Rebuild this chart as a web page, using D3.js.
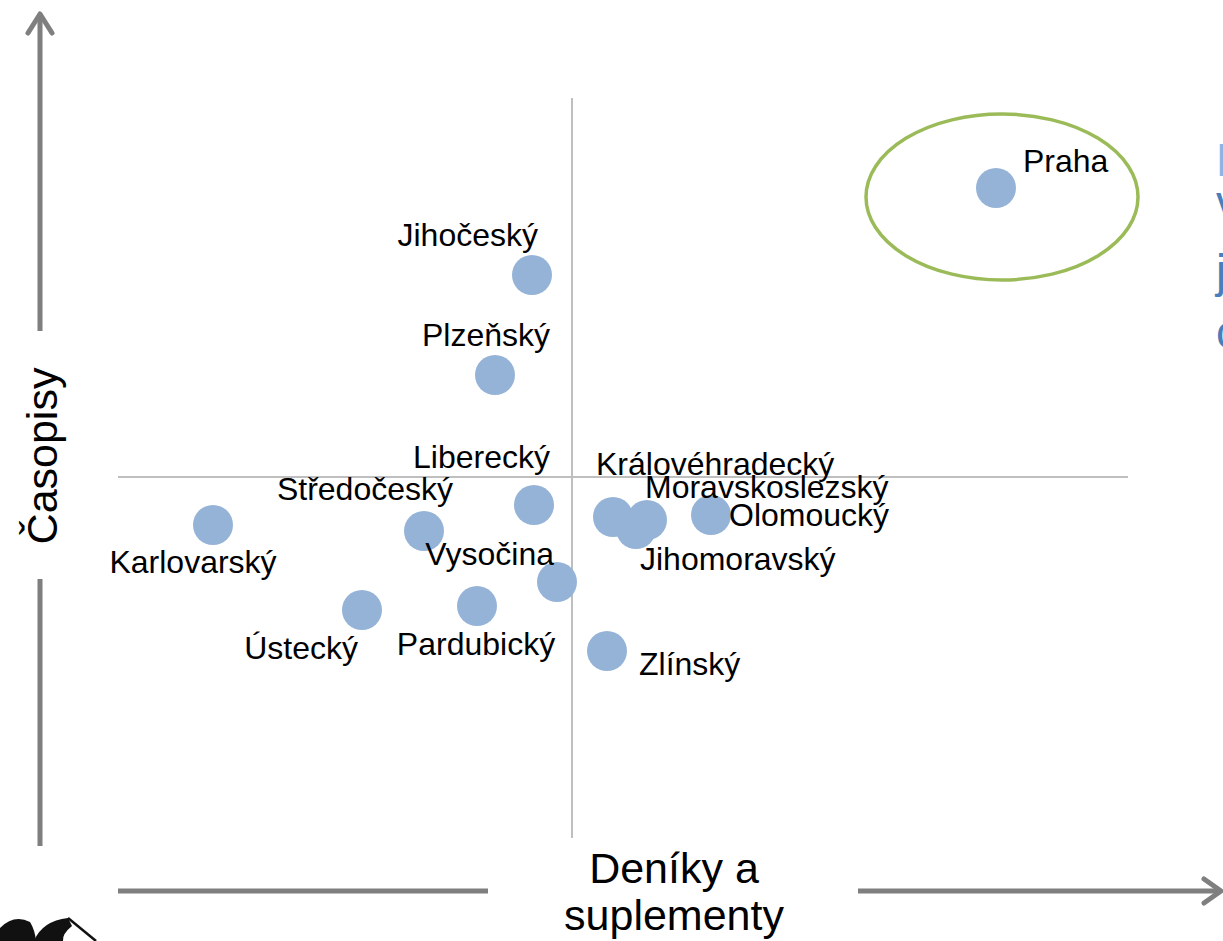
<!DOCTYPE html>
<html>
<head>
<meta charset="utf-8">
<script src="https://cdn.jsdelivr.net/npm/d3@7"></script>
<style>
  html, body { margin: 0; padding: 0; background: #fff; overflow: hidden; }
  svg { display: block; font-family: Arial, "Liberation Sans", sans-serif; }
</style>
</head>
<body>
<div id="chart"></div>
<script>
// regions and their positions on the two axes (0 = crossing of the gray lines)
const regions = ['Praha', 'Jihočeský', 'Plzeňský', 'Liberecký', 'Středočeský', 'Karlovarský',
  'Vysočina', 'Pardubický', 'Ústecký', 'Zlínský', 'Královéhradecký', 'Jihomoravský',
  'Moravskoslezský', 'Olomoucký'];
const deniky = [4.24, -0.40, -0.77, -0.38, -1.48, -3.59, -0.15, -0.95, -2.10, 0.35, 0.41, 0.64, 0.75, 1.39];
const casopisy = [2.89, 2.02, 1.02, -0.28, -0.54, -0.48, -1.05, -1.29, -1.33, -1.74, -0.40, -0.52, -0.43, -0.38];

const axisTitleX = ['Deníky a', 'suplementy'];
const axisTitleY = 'Časopisy';
const sideText = ['P', 'výrazně', 'jinak', 'co'];

// label placement next to each dot: [dx, dy, anchor]
const labelPos = {
  'Praha': [27, -16, 'start'],
  'Jihočeský': [6, -29, 'end'],
  'Plzeňský': [55, -29, 'end'],
  'Liberecký': [16, -37, 'end'],
  'Středočeský': [29, -31, 'end'],
  'Karlovarský': [-20, 48, 'middle'],
  'Vysočina': [-3, -17, 'end'],
  'Pardubický': [-1, 49, 'middle'],
  'Ústecký': [-4, 49, 'end'],
  'Zlínský': [32, 24, 'start'],
  'Královéhradecký': [-17, -42, 'start'],
  'Jihomoravský': [4, 41, 'start'],
  'Moravskoslezský': [-2, -22, 'start'],
  'Olomoucký': [18, 11, 'start']
};

const W = 1223, H = 941;
const data = regions.map((r, i) => ({ name: r, x: deniky[i], y: casopisy[i] }));

const x = d3.scaleLinear().domain([-4.54, 5.56]).range([118, 1128]);
const y = d3.scaleLinear().domain([-3.61, 3.79]).range([838, 98]);

const svg = d3.select('#chart').append('svg')
  .attr('width', W).attr('height', H);

// crossing gray lines
svg.append('line')
  .attr('x1', x.range()[0]).attr('x2', x.range()[1])
  .attr('y1', y(0)).attr('y2', y(0))
  .style('stroke', '#bfbfbf').style('stroke-width', 2);
svg.append('line')
  .attr('x1', x(0)).attr('x2', x(0))
  .attr('y1', y.range()[1]).attr('y2', y.range()[0])
  .style('stroke', '#bfbfbf').style('stroke-width', 2);

// big arrows
const arrowCol = '#7f7f7f';
const arrows = svg.append('g')
  .style('stroke', arrowCol).style('stroke-width', 5).style('fill', 'none');
arrows.append('line').attr('x1', 40).attr('x2', 40).attr('y1', 14).attr('y2', 331);
arrows.append('line').attr('x1', 40).attr('x2', 40).attr('y1', 579).attr('y2', 846);
arrows.append('path').attr('d', 'M28,33L40,14L52,33')
  .style('stroke-linecap', 'round').style('stroke-linejoin', 'round');
arrows.append('line').attr('x1', 118).attr('x2', 488).attr('y1', 891).attr('y2', 891);
arrows.append('line').attr('x1', 858).attr('x2', 1219).attr('y1', 891).attr('y2', 891);
arrows.append('path').attr('d', 'M1204,879L1221,891L1204,903')
  .style('stroke-linecap', 'round').style('stroke-linejoin', 'round');

// axis titles
svg.append('text')
  .attr('transform', 'translate(57,456) rotate(-90)')
  .attr('text-anchor', 'middle')
  .style('font-size', '43px').style('fill', '#000')
  .text(axisTitleY);
svg.selectAll('.xtitle').data(axisTitleX).enter().append('text')
  .attr('class', 'xtitle')
  .attr('x', 674).attr('y', (d, i) => 883 + i * 47)
  .attr('text-anchor', 'middle')
  .style('font-size', '43px').style('fill', '#000')
  .text(d => d);

// highlight ring round Praha
const praha = data[0];
svg.append('ellipse')
  .attr('cx', x(praha.x) + 6).attr('cy', y(praha.y) + 9)
  .attr('rx', 136).attr('ry', 83)
  .style('fill', 'none').style('stroke', '#9bbb59').style('stroke-width', 3.5);

// dots
const nodes = svg.selectAll('.region')
  .data(data, d => d.name);
const nodesEnter = nodes.enter().append('g')
  .attr('class', 'region')
  .attr('transform', d => `translate(${x(d.x)}, ${y(d.y)})`);

nodesEnter.append('circle').attr('r', 20)
  .style('fill', '#95b3d7');

svg.selectAll('.label').data(data).enter().append('text')
  .attr('class', 'label')
  .attr('x', d => x(d.x) + labelPos[d.name][0])
  .attr('y', d => y(d.y) + labelPos[d.name][1])
  .attr('text-anchor', d => labelPos[d.name][2])
  .style('font-size', '32px').style('fill', '#000')
  .text(d => d.name);

// cut-off text at right edge
svg.selectAll('.side').data(sideText).enter().append('text')
  .attr('class', 'side')
  .attr('x', 1216)
  .attr('y', (d, i) => [176, 218, 287, 348][i])
  .style('font-size', '46px')
  .style('fill', (d, i) => i === 0 ? '#8db3e2' : '#4a7ebb')
  .text(d => d);

// logo fragment bottom-left
const logo = svg.append('g').style('fill', '#111');
logo.append('path').attr('d', 'M0,941L0,928Q14,914 30,922Q35,930 36,941Z');
logo.append('path').attr('d', 'M34,941Q42,921 68,918L72,926Q62,934 63,941Z');
logo.append('line').attr('x1', 68).attr('y1', 918).attr('x2', 96).attr('y2', 941)
  .style('stroke', '#111').style('stroke-width', 2.5);
</script>
</body>
</html>
